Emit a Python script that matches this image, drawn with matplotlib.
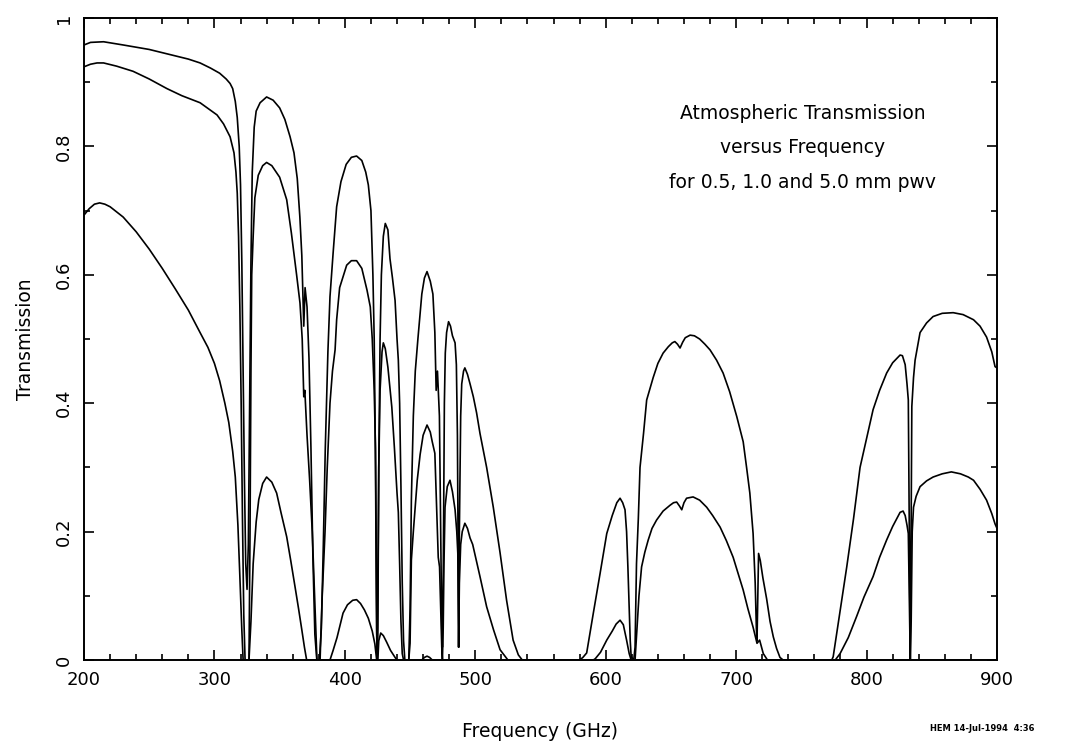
import matplotlib
matplotlib.use("Agg")
import matplotlib.pyplot as plt
from matplotlib.ticker import MultipleLocator

# 0.5 mm pwv (top curve)
freq_05 = [200, 205, 215, 230, 250, 264, 280, 289, 297, 304, 309, 312, 314, 316, 317.5,
           319, 320, 321, 322, 323, 324, 325, 326, 327, 328, 329, 330.5, 332, 335, 340,
           345, 350, 354, 358, 361, 363.5, 365.5, 367, 368.5, 369.5, 371, 372.5, 374, 375.5,
           377, 378.5, 380.5, 382, 383.5, 385, 387, 388.6, 391, 393.7, 397, 401, 405, 409,
           413, 416, 418, 420, 421.5, 422.5, 423.5, 424.3, 424.8, 425.3, 426, 427, 428,
           429.5, 431, 433, 434.6, 436.5, 438.5, 440, 441, 442, 443, 444, 445, 446, 449,
           450, 451, 452.5, 454, 456, 459, 461, 463, 465.5, 467.5, 469, 470, 471, 472.5,
           473.5, 474.3, 474.8, 475.5, 476.3, 477, 478, 479.5, 481, 482.5, 484.5, 485.5,
           486.3, 487, 487.3, 487.8, 488.8, 489.6, 491, 492, 494, 496, 498.5, 501, 503.6,
           508.7, 513.8, 519, 524, 529, 533, 536, 580, 582.5, 585.4, 590.5, 595.7, 600.8,
           605, 608.5, 611, 613, 614.8, 616, 617, 618, 618.8, 619.5, 621.5, 622.5, 623.6,
           625, 626.3, 629, 631.4, 636.4, 640, 644, 648, 651, 653, 655, 657, 659, 661,
           664.7, 668, 672, 676, 680, 685, 690, 695, 700.5, 705.4, 708, 710.5, 713, 714.6,
           715.5, 716, 716.6, 717.2, 718.5, 720.5, 723.4, 726, 728.5, 731, 733.6, 736,
           773.3, 774.4, 777, 780, 784.8, 790, 795, 800, 805, 810, 815.4, 820, 825.7,
           827.5, 829.6, 831, 832, 832.8, 833.5, 834, 834.7, 836, 837.2, 841, 846, 851,
           858, 866.4, 874, 882, 887, 892, 896, 898.5, 900]
trans_05 = [0.958, 0.962, 0.963, 0.958, 0.951, 0.944, 0.936, 0.930, 0.922, 0.914, 0.905,
            0.898, 0.890, 0.870, 0.845, 0.80, 0.74, 0.62, 0.45, 0.28, 0.15, 0.11, 0.18,
            0.40, 0.62, 0.76, 0.83, 0.855, 0.868, 0.877, 0.872, 0.860, 0.842, 0.815, 0.79,
            0.75, 0.69, 0.63, 0.52, 0.58, 0.55, 0.47, 0.33, 0.16, 0.04, 0.0, 0.0, 0.05,
            0.18, 0.33, 0.48, 0.566, 0.634, 0.706, 0.745, 0.772, 0.783, 0.785, 0.778,
            0.76, 0.74, 0.70, 0.60, 0.50, 0.30, 0.05, 0.0, 0.05, 0.30, 0.50, 0.60, 0.66,
            0.68, 0.67, 0.625, 0.595, 0.56, 0.50, 0.467, 0.40, 0.27, 0.12, 0.03, 0.0, 0.0,
            0.08, 0.25, 0.38, 0.45, 0.50, 0.57, 0.595, 0.605, 0.59, 0.57, 0.51, 0.42, 0.45,
            0.38, 0.20, 0.05, 0.02, 0.15, 0.40, 0.478, 0.51, 0.527, 0.52, 0.505, 0.494,
            0.46, 0.35, 0.10, 0.02, 0.20, 0.38, 0.43, 0.45, 0.455, 0.445, 0.43, 0.41,
            0.385, 0.353, 0.30, 0.238, 0.167, 0.093, 0.031, 0.008, 0.0, 0.0, 0.004, 0.011,
            0.073, 0.135, 0.197, 0.225, 0.245, 0.252, 0.245, 0.234, 0.20, 0.145, 0.08,
            0.03, 0.005, 0.0, 0.02, 0.15, 0.22, 0.30, 0.353, 0.405, 0.44, 0.462, 0.478,
            0.488, 0.494, 0.496, 0.492, 0.486, 0.495, 0.502, 0.506, 0.505, 0.500, 0.492,
            0.483, 0.467, 0.447, 0.418, 0.379, 0.34, 0.30, 0.26, 0.197, 0.12, 0.05, 0.03,
            0.10, 0.166, 0.155, 0.128, 0.095, 0.06, 0.036, 0.018, 0.004, 0.0, 0.0, 0.005,
            0.04, 0.08, 0.145, 0.22, 0.30, 0.345, 0.39, 0.42, 0.447, 0.463, 0.475, 0.474,
            0.46, 0.43, 0.405, 0.20, 0.0, 0.15, 0.395, 0.44, 0.467, 0.51, 0.525, 0.535,
            0.540, 0.541, 0.538, 0.53, 0.52, 0.503, 0.48, 0.457, 0.455]

# 1.0 mm pwv (middle curve)
freq_10 = [200, 205, 210, 215, 225, 237.6, 250, 263.6, 275, 289, 302, 307, 312, 315, 316.5,
           317.5, 318.5, 319.5, 320.5, 321.5, 322.5, 323.5, 326.5, 327.3, 328, 328.6,
           329.7, 331, 333.6, 337, 340, 344, 350, 355.4, 359, 363, 365.6, 367.3, 368.5,
           369.3, 371, 373, 375, 377, 378.6, 381, 382.5, 384.8, 386.5, 388.6, 390.5, 392.5,
           393.7, 396, 401.4, 405, 409, 413, 417, 419.5, 421, 422.5, 423.5, 424.3, 424.8,
           425.3, 426, 427, 428.5, 429.5, 431, 433, 436, 438, 440, 441, 442, 443, 444, 445,
           449, 450, 451, 452.5, 453.8, 455.5, 457.7, 460, 463, 465.5, 467, 469, 470.5,
           471.6, 472.6, 473.5, 474.3, 474.8, 475.4, 476, 476.8, 478.5, 480.6, 482.5, 484.5,
           485.8, 486.6, 487.2, 487.8, 488.8, 490, 492, 494, 496, 498, 503.6, 508.7, 514,
           519, 525, 590.5, 592, 596, 600.8, 605, 608, 611, 613.5, 616, 618, 619.5, 622.5,
           623.7, 625.5, 627.5, 630, 632.6, 635.5, 639, 644, 649.3, 652, 654.4, 656.5,
           658.3, 660, 662, 667, 672, 677.4, 682, 687.7, 692.5, 697.7, 701.5, 705.4, 709,
           713, 716, 718, 720.8, 724, 776, 779.7, 786, 792.4, 798, 805, 810, 815.4, 820,
           825.7, 828, 829.6, 831, 832, 833, 833.5, 834.2, 835, 836, 838, 841, 846, 851,
           858, 865, 872, 878, 882, 887, 892, 896, 898.5, 900]
trans_10 = [0.924, 0.928, 0.930, 0.930, 0.925, 0.917, 0.905, 0.890, 0.879, 0.868, 0.849,
            0.835, 0.815, 0.79, 0.76, 0.727, 0.66, 0.55, 0.40, 0.22, 0.07, 0.0, 0.0, 0.2,
            0.45, 0.60, 0.66, 0.72, 0.755, 0.77, 0.775, 0.77, 0.752, 0.717, 0.665, 0.60,
            0.556, 0.50, 0.41, 0.42, 0.35, 0.28, 0.20, 0.09, 0.0, 0.0, 0.093, 0.20, 0.30,
            0.40, 0.45, 0.483, 0.53, 0.58, 0.615, 0.622, 0.622, 0.61, 0.576, 0.55, 0.50,
            0.42, 0.33, 0.10, 0.0, 0.10, 0.30, 0.42, 0.48, 0.494, 0.485, 0.456, 0.394,
            0.33, 0.26, 0.23, 0.15, 0.06, 0.01, 0.0, 0.0, 0.026, 0.156, 0.20, 0.234, 0.28,
            0.32, 0.35, 0.366, 0.355, 0.34, 0.322, 0.23, 0.16, 0.145, 0.08, 0.02, 0.0,
            0.05, 0.15, 0.238, 0.27, 0.28, 0.262, 0.234, 0.20, 0.166, 0.02, 0.12, 0.18,
            0.20, 0.213, 0.205, 0.19, 0.18, 0.13, 0.083, 0.047, 0.016, 0.0, 0.0, 0.002,
            0.012, 0.031, 0.045, 0.056, 0.062, 0.055, 0.031, 0.01, 0.0, 0.0, 0.04, 0.10,
            0.145, 0.168, 0.187, 0.205, 0.218, 0.232, 0.241, 0.245, 0.246, 0.24, 0.234,
            0.245, 0.252, 0.254, 0.249, 0.238, 0.225, 0.207, 0.186, 0.16, 0.135, 0.109,
            0.08, 0.051, 0.026, 0.031, 0.01, 0.0, 0.0, 0.01, 0.035, 0.068, 0.098, 0.13,
            0.16, 0.187, 0.208, 0.23, 0.232, 0.225, 0.21, 0.197, 0.06, 0.0, 0.06, 0.20,
            0.238, 0.255, 0.27, 0.279, 0.285, 0.29, 0.293, 0.29, 0.285, 0.28, 0.266, 0.249,
            0.228, 0.212, 0.205]

# 5.0 mm pwv (bottom curve)
freq_50 = [200, 204, 208, 212, 216, 220, 230, 240, 250, 260, 270, 280, 289, 295, 300, 304,
           308, 311, 314, 316, 318, 319.5, 321, 322, 326.5, 328, 329.7, 332, 334, 337, 340,
           344, 347.7, 351, 355.4, 358.5, 361.8, 364.5, 367, 369, 370.7, 388.6, 391, 394,
           398.6, 402, 406, 409, 412, 415, 418, 421, 423, 424.4, 425.3, 426, 427.5, 429.5,
           432, 435, 438.5, 440, 459, 461, 463, 465, 467, 900]
trans_50 = [0.693, 0.703, 0.710, 0.712, 0.710, 0.706, 0.690, 0.667, 0.640, 0.610, 0.578,
            0.545, 0.510, 0.487, 0.462, 0.435, 0.40, 0.37, 0.325, 0.285, 0.21, 0.13, 0.047,
            0.0, 0.0, 0.06, 0.15, 0.215, 0.25, 0.275, 0.285, 0.277, 0.26, 0.23, 0.192,
            0.155, 0.114, 0.08, 0.047, 0.02, 0.0, 0.0, 0.015, 0.035, 0.073, 0.086, 0.093,
            0.094, 0.088, 0.078, 0.065, 0.045, 0.025, 0.0, 0.0, 0.03, 0.042, 0.038, 0.028,
            0.015, 0.004, 0.0, 0.0, 0.004, 0.006, 0.004, 0.0, 0.0]

title_lines = ["Atmospheric Transmission", "versus Frequency",
               "for 0.5, 1.0 and 5.0 mm pwv"]
x_ticks = [200, 300, 400, 500, 600, 700, 800, 900]
y_ticks = [0, 0.2, 0.4, 0.6, 0.8, 1]
y_tick_labels = ["0", "0.2", "0.4", "0.6", "0.8", "1"]

fig = plt.figure(figsize=(10.8, 7.44), dpi=100)
ax = fig.add_axes([84 / 1080, 84 / 744, 913 / 1080, 642 / 744])

for f, t in [(freq_05, trans_05), (freq_10, trans_10), (freq_50, trans_50)]:
    ax.plot(f, t, color='black', linewidth=1.2)

ax.set_xlim(200, 900)
ax.set_ylim(0, 1)

# ticks inward on all four sides
ax.set_xticks(x_ticks)
ax.set_yticks(y_ticks)
ax.set_yticklabels(y_tick_labels, rotation=90, va='center')
ax.xaxis.set_minor_locator(MultipleLocator(20))
ax.yaxis.set_minor_locator(MultipleLocator(0.1))
ax.tick_params(which='both', direction='in', top=True, right=True, width=1.2)
ax.tick_params(which='major', length=7, labelsize=13, pad=8)
ax.tick_params(which='minor', length=4)
for s in ax.spines.values():
    s.set_linewidth(1.4)

ax.set_xlabel('Frequency (GHz)', fontsize=13.5, labelpad=24)
ax.set_ylabel('Transmission', fontsize=13.5, labelpad=14)

for i, line in enumerate(title_lines):
    ax.text(0.7875, 0.852 - i * 0.054, line, transform=ax.transAxes,
            ha='center', va='center', fontsize=13.5)

fig.text(1034 / 1080, 0.021, 'HEM 14-Jul-1994  4:36', ha='right', va='center',
         fontsize=6, fontweight='bold')

fig.savefig('out.png', dpi=100)
